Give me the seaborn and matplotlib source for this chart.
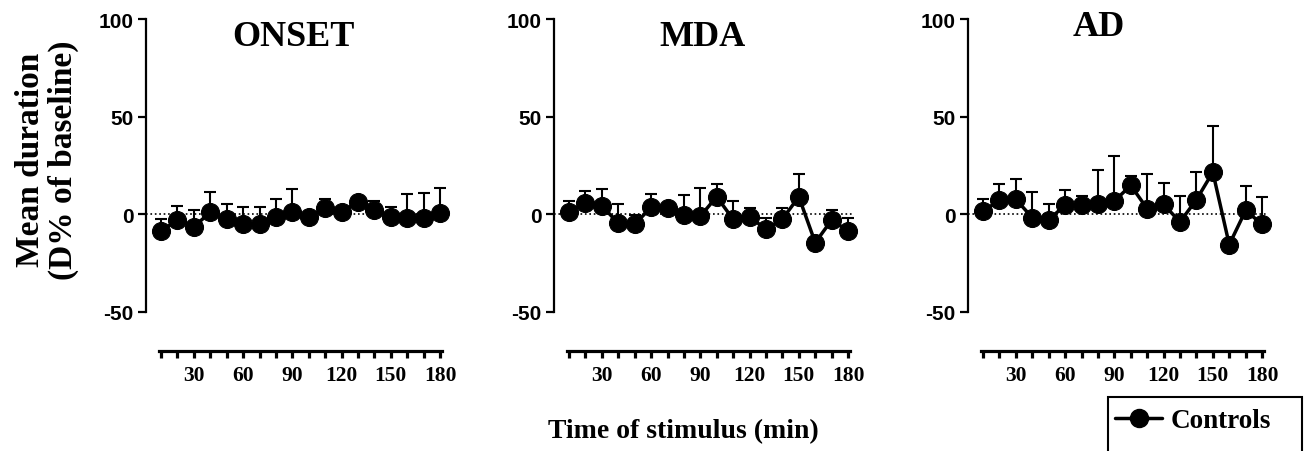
import pandas as pd
import seaborn as sns
import matplotlib.pyplot as plt
from matplotlib.lines import Line2D
from matplotlib.patches import Rectangle

time_min = [10, 20, 30, 40, 50, 60, 70, 80, 90, 100, 110, 120, 130, 140, 150, 160, 170, 180]

onset_mean = [-8.5, -2.9, -6.3, 1.0, -2.6, -4.8, -4.8, -1.2, 1.4, -1.5, 3.1, 1.4, 6.3, 2.2, -1.5, -2.0, -2.0, 0.9]
onset_sem = [6.1, 7.3, 8.3, 10.2, 7.7, 8.5, 8.5, 9.2, 11.4, 2.0, 4.6, 2.0, 2.0, 4.6, 5.1, 12.4, 12.7, 12.7]

mda_mean = [1.4, 5.6, 4.4, -4.6, -5.1, 3.6, 3.1, -0.3, -0.9, 9.0, -2.6, -1.2, -7.7, -2.4, 9.0, -14.5, -2.9, -8.5]
mda_sem = [5.4, 6.5, 8.5, 9.9, 4.8, 6.9, 2.0, 10.2, 14.2, 6.3, 9.4, 4.6, 5.7, 5.8, 11.7, 2.0, 4.9, 6.5]

ad_mean = [1.5, 7.3, 7.7, -1.7, -2.7, 4.6, 4.6, 5.4, 6.8, 14.8, 2.9, 5.1, -3.9, 7.5, 21.6, -15.5, 2.0, -5.1]
ad_sem = [6.2, 8.0, 10.5, 13.1, 7.8, 8.0, 4.6, 17.4, 23.0, 4.8, 17.5, 10.9, 13.4, 14.4, 23.5, 2.0, 12.5, 13.9]

panel_titles = ["ONSET", "MDA", "AD"]
y_ticks = [-50, 0, 50, 100]
x_tick_labels = ["", "", "30", "", "", "60", "", "", "90", "", "", "120", "", "", "150", "", "", "180"]
series_name = "Controls"

frames = []
for title, m, s in zip(panel_titles, [onset_mean, mda_mean, ad_mean], [onset_sem, mda_sem, ad_sem]):
    frames.append(pd.DataFrame({"phase": title, "time": time_min, "mean": m, "sem": s}))
df = pd.concat(frames, ignore_index=True)

sns.set_style("ticks")
plt.rcParams['font.family'] = ['Liberation Serif', 'DejaVu Serif']
plt.rcParams['axes.unicode_minus'] = False
plt.rcParams['text.color'] = 'black'
plt.rcParams['axes.edgecolor'] = 'black'
plt.rcParams['xtick.color'] = 'black'
plt.rcParams['ytick.color'] = 'black'
plt.rcParams['axes.labelcolor'] = 'black'

W, H = 1306, 452
fig = plt.figure(figsize=(W / 100, H / 100), dpi=100)

lefts = [146, 554, 968]
title_pos = [(0.492, 0.939), (0.495, 0.940), (0.438, 0.976)]
serif_bold = dict(family='Liberation Serif', weight='bold')

for i, title in enumerate(panel_titles):
    ax = fig.add_axes([lefts[i] / W, (H - 313) / H, 299 / W, 293 / H])
    sub = df[df["phase"] == title]

    ax.axhline(0, color='black', linestyle=':', linewidth=1.2, zorder=0)
    ax.errorbar(sub["time"], sub["mean"], yerr=[[0] * len(sub), sub["sem"]],
                fmt='none', ecolor='black', elinewidth=1.5, capsize=4, capthick=1.5,
                zorder=1, clip_on=False)
    sns.lineplot(data=sub, x="time", y="mean", ax=ax, color='black', linewidth=2.5,
                 marker='o', markersize=13, markeredgecolor='black', zorder=2, clip_on=False)

    ax.set_xlim(0.85, 183)
    ax.set_ylim(-50, 100)
    ax.set_xlabel("")
    ax.set_ylabel("")

    sns.despine(ax=ax)
    ax.spines['left'].set_linewidth(1.6)
    ax.spines['left'].set_bounds(-50, 100)
    ax.spines['bottom'].set_position(('outward', 28))
    ax.spines['bottom'].set_bounds(9, 181)
    ax.spines['bottom'].set_linewidth(2.3)

    ax.set_yticks(y_ticks)
    ax.set_yticklabels([str(v) for v in y_ticks], family='Liberation Sans', weight='bold', fontsize=15)
    ax.tick_params(axis='y', direction='out', length=6, width=1.6, pad=3, colors='black')

    ax.set_xticks(time_min)
    ax.set_xticklabels(x_tick_labels, **serif_bold, fontsize=15.5)
    ax.tick_params(axis='x', direction='out', length=5, width=2.3, pad=5, colors='black')

    ax.text(title_pos[i][0], title_pos[i][1], title, transform=ax.transAxes,
            ha='center', va='center', fontsize=26, color='black', **serif_bold)

fig.text(47 / W, 1 - 160 / H, "Mean duration\n(D% of baseline)", rotation=90,
         ha='center', va='center', multialignment='center', linespacing=1.1,
         fontsize=24, color='black', **serif_bold)
fig.text(683 / W, 1 - 432 / H, "Time of stimulus (min)", ha='center', va='center',
         fontsize=20, color='black', **serif_bold)

fig.patches.append(Rectangle((1108 / W, -0.05), 194 / W, (H - 398) / H + 0.05,
                             transform=fig.transFigure, fill=False, edgecolor='black', linewidth=1.5))
handle = Line2D([], [], color='black', marker='o', markersize=13, linewidth=2.5)
fig.legend(handles=[handle], labels=[series_name], loc='center left',
           bbox_to_anchor=(1115 / W, 1 - 422 / H), frameon=False, borderpad=0,
           borderaxespad=0, handlelength=1.75, handletextpad=0.3, labelcolor='black',
           prop=dict(family='Liberation Serif', weight='bold', size=19.5))

fig.savefig("out.png", dpi=100)
